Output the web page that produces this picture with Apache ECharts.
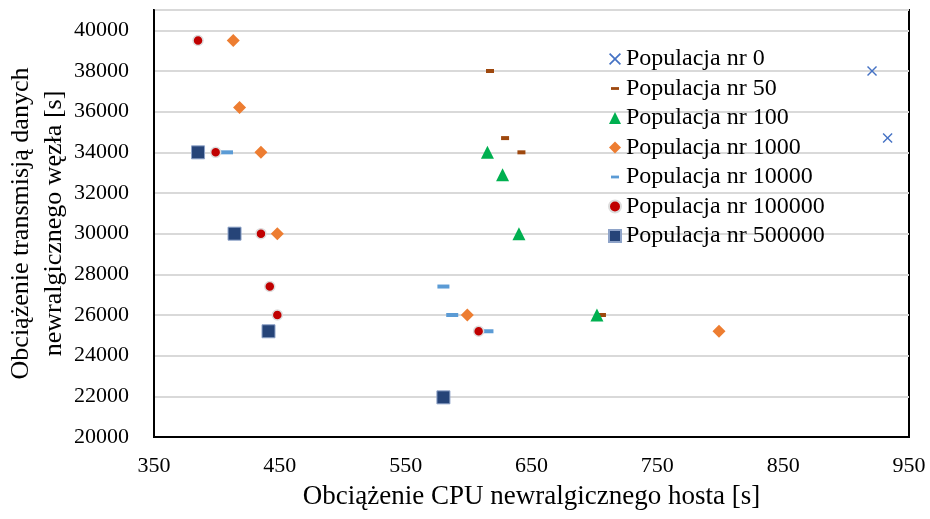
<!DOCTYPE html>
<html>
<head>
<meta charset="utf-8">
<script src="https://cdn.jsdelivr.net/npm/echarts@6/dist/echarts.min.js"></script>
<style>html,body{margin:0;padding:0;background:#fff}#c{width:930px;height:519px}</style>
</head>
<body>
<div id="c"></div>
<script>
// ---- data ----
const seriesNames = ['Populacja nr 0','Populacja nr 50','Populacja nr 100','Populacja nr 1000','Populacja nr 10000','Populacja nr 100000','Populacja nr 500000'];
const pop0X = [920.6, 933];
const pop0Y = [38000, 34700];
const pop50X = [617, 629, 642, 706];
const pop50Y = [38000, 34700, 34000, 26000];
const pop100X = [615, 627, 640, 702];
const pop100Y = [34000, 32900, 30000, 26000];
const pop1000X = [413, 418, 435, 448, 599, 799];
const pop1000Y = [39500, 36200, 34000, 30000, 26000, 25200];
const pop10000X = [408, 580, 587, 615];
const pop10000Y = [34000, 27400, 26000, 25200];
const pop100000X = [385, 399, 435, 442, 448, 608];
const pop100000Y = [39500, 34000, 30000, 27400, 26000, 25200];
const pop500000X = [385, 414, 441, 580];
const pop500000Y = [34000, 30000, 25200, 21950];
const xTicks = [350, 450, 550, 650, 750, 850, 950];
const yTicks = [20000, 22000, 24000, 26000, 28000, 30000, 32000, 34000, 36000, 38000, 40000];

const xs = [pop0X, pop50X, pop100X, pop1000X, pop10000X, pop100000X, pop500000X];
const ys = [pop0Y, pop50Y, pop100Y, pop1000Y, pop10000Y, pop100000Y, pop500000Y];

const FONT = 'Liberation Serif';
const crossPath = 'path://M1,0L5,4L9,0L10,1L6,5L10,9L9,10L5,6L1,10L0,9L4,5L0,1Z';
const dashPath = 'path://M0,0H10V4H0Z';
const legendDash = 'path://M0,0M12,12M2,4.6H10V7.4H2Z';

const styles = [
  {symbol: crossPath, size: 10, color: '#4472C4'},
  {symbol: dashPath, size: [8, 4], color: '#9E480E', legendIcon: legendDash},
  {symbol: 'triangle', size: 13, color: '#00B050'},
  {symbol: 'diamond', size: 13, color: '#ED7D31'},
  {symbol: dashPath, size: [12, 4], color: '#5B9BD5', legendIcon: legendDash},
  {symbol: 'circle', size: 10, color: '#C00000', border: '#DDDDDD', bw: 1.5},
  {symbol: 'rect', size: 13, color: '#264478', border: '#8EA3C8', bw: 1}
];

const series = seriesNames.map((name, i) => ({
  name: name,
  type: 'scatter',
  symbol: styles[i].symbol,
  symbolSize: styles[i].size,
  itemStyle: {
    color: styles[i].color,
    borderColor: styles[i].border || styles[i].color,
    borderWidth: styles[i].bw || 0,
    opacity: 1
  },
  data: xs[i].map((x, k) => [x, ys[i][k]]),
  z: 3 + i
}));

const chart = echarts.init(document.getElementById('c'), null, {renderer: 'canvas'});
chart.setOption({
  animation: false,
  backgroundColor: '#fff',
  textStyle: {fontFamily: FONT, color: '#000'},
  grid: {left: 154, right: 21, top: 10, bottom: 82, show: true, borderColor: '#000', borderWidth: 2,
         backgroundColor: 'transparent', containLabel: false, outerBoundsMode: 'none'},
  xAxis: {
    type: 'value', min: 350, max: 950, interval: 50,
    name: 'Obciążenie CPU newralgicznego hosta [s]',
    nameLocation: 'middle', nameGap: 46, nameMoveOverlap: false,
    nameTextStyle: {fontFamily: FONT, fontSize: 27, color: '#000'},
    axisLine: {show: true, lineStyle: {color: '#000', width: 2}},
    axisTick: {show: false},
    splitLine: {show: false},
    axisLabel: {
      fontFamily: FONT, fontSize: 22, color: '#000', margin: 18,
      formatter: v => xTicks.indexOf(v) >= 0 ? String(v) : ''
    }
  },
  yAxis: {
    type: 'value', min: 20000, max: 41000, interval: 2000,
    name: 'Obciążenie transmisją danych\nnewralgicznego węzła [s]',
    nameLocation: 'middle', nameGap: 83, nameRotate: 90, nameMoveOverlap: false,
    nameTextStyle: {fontFamily: FONT, fontSize: 26, color: '#000', lineHeight: 33},
    axisLine: {show: true, lineStyle: {color: '#000', width: 2}},
    axisTick: {show: false},
    splitLine: {show: true, lineStyle: {color: '#D9D9D9', width: 2}},
    axisLabel: {
      fontFamily: FONT, fontSize: 22, color: '#000', margin: 25,
      formatter: v => yTicks.indexOf(v) >= 0 ? String(v) : ''
    }
  },
  legend: {
    orient: 'vertical', left: 603, top: 42,
    itemWidth: 12, itemHeight: 12, itemGap: 5.5,
    textStyle: {fontFamily: FONT, fontSize: 24, color: '#000', lineHeight: 24},
    data: seriesNames.map((n, i) => styles[i].legendIcon ? {name: n, icon: styles[i].legendIcon} : {name: n}),
  },
  series: series
});
</script>
</body>
</html>
